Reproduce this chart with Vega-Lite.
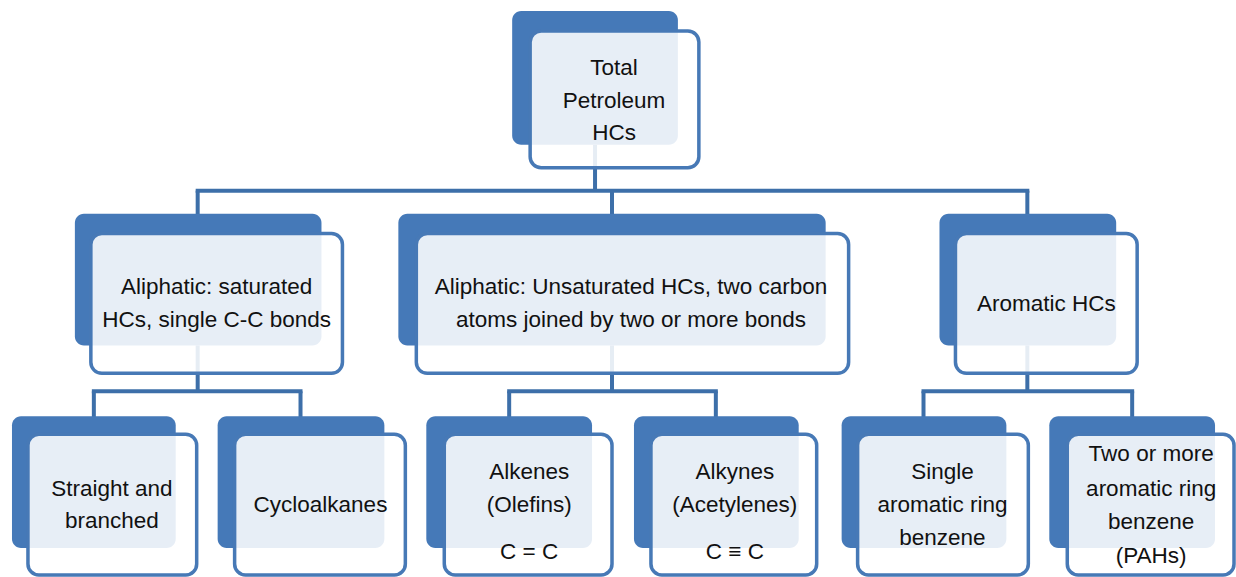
{
  "$schema": "https://vega.github.io/schema/vega-lite/v6.json",
  "width": 1236,
  "height": 577,
  "autosize": {"type": "fit", "contains": "padding"},
  "padding": 0,
  "background": "white",
  "config": {"view": {"stroke": null}},
  "datasets": {
    "links": [
      {"x1": 596, "y1": 145, "x2": 596, "y2": 191},
      {"x1": 196, "y1": 191, "x2": 1031, "y2": 191},
      {"x1": 198, "y1": 191, "x2": 198, "y2": 215},
      {"x1": 613, "y1": 191, "x2": 613, "y2": 215},
      {"x1": 1029, "y1": 191, "x2": 1029, "y2": 215},
      {"x1": 198, "y1": 346, "x2": 198, "y2": 392},
      {"x1": 613, "y1": 346, "x2": 613, "y2": 392},
      {"x1": 1029, "y1": 346, "x2": 1029, "y2": 392},
      {"x1": 92, "y1": 392, "x2": 303, "y2": 392},
      {"x1": 508, "y1": 392, "x2": 719, "y2": 392},
      {"x1": 923, "y1": 392, "x2": 1136, "y2": 392},
      {"x1": 94, "y1": 392, "x2": 94, "y2": 418},
      {"x1": 301, "y1": 392, "x2": 301, "y2": 418},
      {"x1": 510, "y1": 392, "x2": 510, "y2": 418},
      {"x1": 717, "y1": 392, "x2": 717, "y2": 418},
      {"x1": 925, "y1": 392, "x2": 925, "y2": 418},
      {"x1": 1134, "y1": 392, "x2": 1134, "y2": 418}
    ],
    "boxes": [
      {"node": "Total Petroleum HCs", "bx1": 513, "by1": 11, "bx2": 679, "by2": 145, "fx1": 531, "fy1": 31, "fx2": 700, "fy2": 168},
      {"node": "Aliphatic saturated", "bx1": 75, "by1": 214, "bx2": 322, "by2": 346, "fx1": 91, "fy1": 234, "fx2": 343, "fy2": 374},
      {"node": "Aliphatic unsaturated", "bx1": 399, "by1": 214, "bx2": 827, "by2": 346, "fx1": 417, "fy1": 234, "fx2": 850, "fy2": 374},
      {"node": "Aromatic HCs", "bx1": 941, "by1": 214, "bx2": 1118, "by2": 346, "fx1": 957, "fy1": 234, "fx2": 1139, "fy2": 374},
      {"node": "Straight and branched", "bx1": 12, "by1": 417, "bx2": 176, "by2": 549, "fx1": 28, "fy1": 435, "fx2": 197, "fy2": 576},
      {"node": "Cycloalkanes", "bx1": 218, "by1": 417, "bx2": 385, "by2": 549, "fx1": 235, "fy1": 435, "fx2": 406, "fy2": 576},
      {"node": "Alkenes", "bx1": 427, "by1": 417, "bx2": 593, "by2": 549, "fx1": 445, "fy1": 435, "fx2": 613, "fy2": 576},
      {"node": "Alkynes", "bx1": 635, "by1": 417, "bx2": 800, "by2": 549, "fx1": 652, "fy1": 435, "fx2": 818, "fy2": 576},
      {"node": "Single ring", "bx1": 843, "by1": 417, "bx2": 1008, "by2": 549, "fx1": 859, "fy1": 435, "fx2": 1030, "fy2": 576},
      {"node": "PAHs", "bx1": 1051, "by1": 417, "bx2": 1217, "by2": 549, "fx1": 1069, "fy1": 435, "fx2": 1236, "fy2": 576}
    ],
    "labels": [
      {"x": 615, "y": 68, "text": "Total"},
      {"x": 615, "y": 101, "text": "Petroleum"},
      {"x": 615, "y": 133, "text": "HCs"},
      {"x": 217, "y": 287, "text": "Aliphatic: saturated"},
      {"x": 217, "y": 321, "text": "HCs, single C-C bonds"},
      {"x": 632, "y": 287, "text": "Aliphatic: Unsaturated HCs, two  carbon"},
      {"x": 632, "y": 321, "text": "atoms  joined by two or more bonds"},
      {"x": 1048, "y": 305, "text": "Aromatic HCs"},
      {"x": 112, "y": 490, "text": "Straight and"},
      {"x": 112, "y": 522, "text": "branched"},
      {"x": 321, "y": 506, "text": "Cycloalkanes"},
      {"x": 530, "y": 473, "text": "Alkenes"},
      {"x": 530, "y": 506, "text": "(Olefins)"},
      {"x": 530, "y": 553, "text": "C = C"},
      {"x": 736, "y": 473, "text": "Alkynes"},
      {"x": 736, "y": 506, "text": "(Acetylenes)"},
      {"x": 736, "y": 553, "text": "C ≡ C"},
      {"x": 944, "y": 473, "text": "Single"},
      {"x": 944, "y": 506, "text": "aromatic ring"},
      {"x": 944, "y": 539, "text": "benzene"},
      {"x": 1153, "y": 455, "text": "Two or more"},
      {"x": 1153, "y": 490, "text": "aromatic ring"},
      {"x": 1153, "y": 523, "text": "benzene"},
      {"x": 1153, "y": 557, "text": "(PAHs)"}
    ]
  },
  "layer": [
    {
      "data": {"name": "links"},
      "mark": {"type": "rule", "color": "#3D6FA9", "strokeWidth": 4},
      "encoding": {
        "x": {"field": "x1", "type": "quantitative", "scale": {"domain": [0, 1236], "nice": false, "zero": false}, "axis": null},
        "x2": {"field": "x2"},
        "y": {"field": "y1", "type": "quantitative", "scale": {"domain": [0, 577], "nice": false, "zero": false, "reverse": true}, "axis": null},
        "y2": {"field": "y2"}
      }
    },
    {
      "data": {"name": "boxes"},
      "mark": {"type": "rect", "fill": "#4579B8", "cornerRadius": 9},
      "encoding": {
        "x": {"field": "bx1", "type": "quantitative"},
        "x2": {"field": "bx2"},
        "y": {"field": "by1", "type": "quantitative"},
        "y2": {"field": "by2"}
      }
    },
    {
      "data": {"name": "boxes"},
      "mark": {"type": "rect", "fill": "white", "fillOpacity": 0.875, "stroke": "#4779B6", "strokeWidth": 3.5, "cornerRadius": 11},
      "encoding": {
        "x": {"field": "fx1", "type": "quantitative"},
        "x2": {"field": "fx2"},
        "y": {"field": "fy1", "type": "quantitative"},
        "y2": {"field": "fy2"}
      }
    },
    {
      "data": {"name": "labels"},
      "mark": {"type": "text", "font": "Liberation Sans", "fontSize": 22.5, "color": "#111111", "align": "center", "baseline": "middle"},
      "encoding": {
        "x": {"field": "x", "type": "quantitative"},
        "y": {"field": "y", "type": "quantitative"},
        "text": {"field": "text"}
      }
    }
  ]
}
